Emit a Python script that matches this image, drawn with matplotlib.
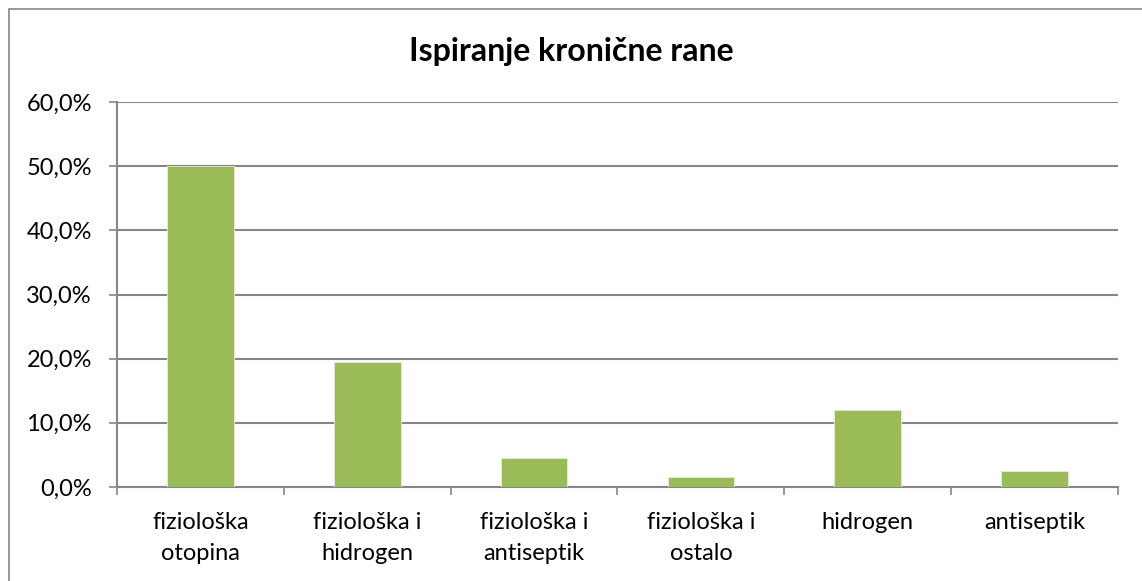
import matplotlib.pyplot as plt
from matplotlib.patches import Rectangle
from matplotlib.ticker import FuncFormatter, FixedLocator

categories = [
    "fiziološka\notopina",
    "fiziološka i\nhidrogen",
    "fiziološka i\nantiseptik",
    "fiziološka i\nostalo",
    "hidrogen",
    "antiseptik",
]
values = [50.0, 19.5, 4.5, 1.5, 12.0, 2.5]
y_ticks = [0, 10, 20, 30, 40, 50, 60]

bar_color = "#9BBB59"
line_color = "#868686"

plt.rcParams["font.family"] = ["Lato", "DejaVu Sans"]

fig = plt.figure(figsize=(11.42, 5.81), dpi=100)
ax = fig.add_axes([117 / 1142, 1 - 487 / 581, (1118 - 117) / 1142, (487 - 102) / 581])

# chart border
fig.patches.append(Rectangle((9 / 1142, -0.1), 1.2, 1 - 9 / 581 + 0.1, transform=fig.transFigure,
                             fill=False, edgecolor=line_color, linewidth=1.2))

x = range(len(categories))
ax.bar(x, values, width=0.4, color=bar_color, edgecolor="#E6EFD6", linewidth=0.6, zorder=3)

ax.set_xlim(-0.5, len(categories) - 0.5)
ax.set_ylim(0, 60)
ax.set_yticks(y_ticks)
ax.yaxis.set_major_formatter(FuncFormatter(lambda v, p: f"{v:.1f}%".replace(".", ",")))
ax.yaxis.grid(True, color=line_color, linewidth=1.5, zorder=0)

# x ticks at category boundaries, labels at centres
ax.xaxis.set_major_locator(FixedLocator([i - 0.5 for i in range(len(categories) + 1)]))
ax.xaxis.set_major_formatter(FuncFormatter(lambda v, p: ""))
ax.xaxis.set_minor_locator(FixedLocator(list(x)))
ax.set_xticklabels(categories, minor=True)
ax.tick_params(axis="x", which="minor", length=0, pad=18, labelsize=17)
ax.tick_params(axis="x", which="major", length=6, color=line_color, width=1.2)
ax.tick_params(axis="y", length=6, color=line_color, width=1.2, labelsize=17, pad=12)
for lbl in ax.get_xticklabels(minor=True):
    lbl.set_linespacing(1.6)

for side in ["top", "right"]:
    ax.spines[side].set_visible(False)
for side in ["left", "bottom"]:
    ax.spines[side].set_color(line_color)
    ax.spines[side].set_linewidth(1.5)

fig.text(0.5, 1 - 52 / 581, "Ispiranje kronične rane", ha="center", va="center",
         fontsize=23, fontweight="bold")

fig.savefig("out.png", dpi=100)
